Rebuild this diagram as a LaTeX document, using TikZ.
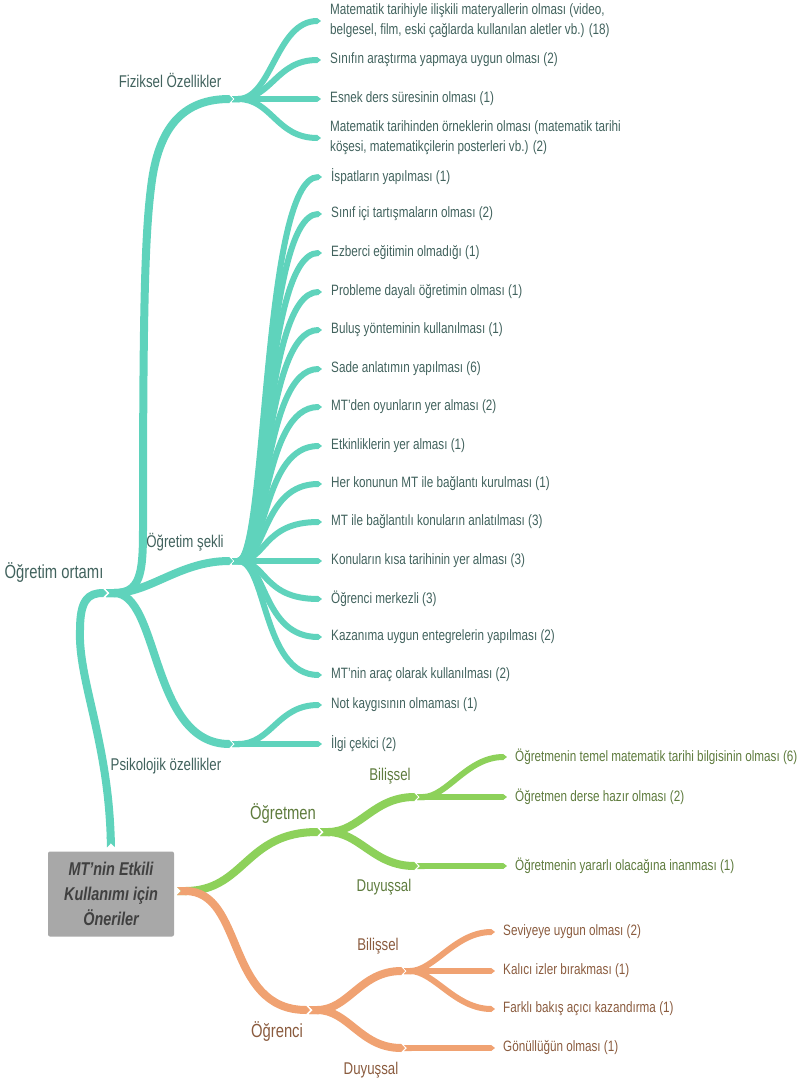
\documentclass[tikz,border=0pt]{standalone}
\usepackage{fontspec}
\setmainfont{Liberation Sans}[FakeStretch=0.78]
\usetikzlibrary{arrows.meta}
\usetikzlibrary{backgrounds}

\definecolor{tealc}{HTML}{5FD3BC}
\definecolor{greenc}{HTML}{8DD15A}
\definecolor{orangec}{HTML}{F0A272}
\definecolor{tealtext}{HTML}{41625D}
\definecolor{greentext}{HTML}{5E7B3D}
\definecolor{orangetext}{HTML}{8A5B3E}
\definecolor{rootfill}{HTML}{A8A8A8}

\begin{document}
\begin{tikzpicture}[x=1pt, y=-1pt,
    main/.style={line width=8pt, {Triangle Cap[reversed]}-{Triangle[width=0pt 1, length=4pt]}},
    leaf/.style={line width=6pt, {Triangle Cap[reversed]}-{Triangle[width=0pt 1, length=4pt]}},
    leaftext/.style={anchor=west, inner sep=0pt, align=left, font=\fontsize{15}{20}\selectfont},
    toptext/.style={inner sep=0pt, font=\fontsize{19}{22}\selectfont},
    midtext/.style={inner sep=0pt, font=\fontsize{17}{20}\selectfont},
    rootbox/.style={fill=rootfill, rounded corners=2pt, minimum width=126pt, minimum height=85pt,
        align=center, text=black!75, font=\fontsize{18.5}{25}\selectfont\bfseries\itshape}]

    \useasboundingbox (0,0) rectangle (800,1081);

    \node [rootbox] (root) at (111,894) {MT'nin Etkili\\Kullanımı için\\Öneriler};

    % junctions
    \coordinate (ort) at (106,593);
    \coordinate (fiz) at (232,99);
    \coordinate (sek) at (232,561);
    \coordinate (psi) at (232,744);
    \coordinate (ogm) at (320,832);
    \coordinate (gbil) at (417,797);
    \coordinate (gduy) at (417,866);
    \coordinate (ogr) at (309,1010);
    \coordinate (obil) at (404,971);
    \coordinate (oduy) at (404,1048);

    % branch labels
    \node [toptext, text=tealtext] (ortlbl) at (54,573) {Öğretim ortamı};
    \node [midtext, text=tealtext] (fizlbl) at (170,80) {Fiziksel Özellikler};
    \node [midtext, text=tealtext] (seklbl) at (185,542) {Öğretim şekli};
    \node [midtext, text=tealtext] (psilbl) at (166,766) {Psikolojik özellikler};
    \node [toptext, text=greentext] (ogmlbl) at (283,814) {Öğretmen};
    \node [midtext, text=greentext] (gbillbl) at (390,776) {Bilişsel};
    \node [midtext, text=greentext] (gduylbl) at (384,887) {Duyuşsal};
    \node [toptext, text=orangetext] (ogrlbl) at (277,1032) {Öğrenci};
    \node [midtext, text=orangetext] (obillbl) at (378,946) {Bilişsel};
    \node [midtext, text=orangetext] (oduylbl) at (371,1070) {Duyuşsal};

    % leaves
    \node [leaftext, text=tealtext] (f1) at (330,21) {Matematik tarihiyle ilişkili materyallerin olması (video,\\belgesel, film, eski çağlarda kullanılan aletler vb.) (18)};
    \node [leaftext, text=tealtext] (f2) at (330,60) {Sınıfın araştırma yapmaya uygun olması (2)};
    \node [leaftext, text=tealtext] (f3) at (330,99) {Esnek ders süresinin olması (1)};
    \node [leaftext, text=tealtext] (f4) at (330,138) {Matematik tarihinden örneklerin olması (matematik tarihi\\köşesi, matematikçilerin posterleri vb.) (2)};

    \node [leaftext, text=tealtext] (s1) at (331,177) {İspatların yapılması (1)};
    \node [leaftext, text=tealtext] (s2) at (331,214) {Sınıf içi tartışmaların olması (2)};
    \node [leaftext, text=tealtext] (s3) at (331,253) {Ezberci eğitimin olmadığı (1)};
    \node [leaftext, text=tealtext] (s4) at (331,292) {Probleme dayalı öğretimin olması (1)};
    \node [leaftext, text=tealtext] (s5) at (331,330) {Buluş yönteminin kullanılması (1)};
    \node [leaftext, text=tealtext] (s6) at (331,369) {Sade anlatımın yapılması (6)};
    \node [leaftext, text=tealtext] (s7) at (331,407) {MT'den oyunların yer alması (2)};
    \node [leaftext, text=tealtext] (s8) at (331,446) {Etkinliklerin yer alması (1)};
    \node [leaftext, text=tealtext] (s9) at (331,484) {Her konunun MT ile bağlantı kurulması (1)};
    \node [leaftext, text=tealtext] (s10) at (331,522) {MT ile bağlantılı konuların anlatılması (3)};
    \node [leaftext, text=tealtext] (s11) at (331,561) {Konuların kısa tarihinin yer alması (3)};
    \node [leaftext, text=tealtext] (s12) at (331,599) {Öğrenci merkezli (3)};
    \node [leaftext, text=tealtext] (s13) at (331,637) {Kazanıma uygun entegrelerin yapılması (2)};
    \node [leaftext, text=tealtext] (s14) at (331,675) {MT'nin araç olarak kullanılması (2)};

    \node [leaftext, text=tealtext] (p1) at (331,705) {Not kaygısının olmaması (1)};
    \node [leaftext, text=tealtext] (p2) at (331,744) {İlgi çekici (2)};

    \node [leaftext, text=greentext] (g1) at (515,757) {Öğretmenin temel matematik tarihi bilgisinin olması (6)};
    \node [leaftext, text=greentext] (g2) at (515,797) {Öğretmen derse hazır olması (2)};
    \node [leaftext, text=greentext] (g3) at (515,866) {Öğretmenin yararlı olacağına inanması (1)};

    \node [leaftext, text=orangetext] (o1) at (503,932) {Seviyeye uygun olması (2)};
    \node [leaftext, text=orangetext] (o2) at (503,971) {Kalıcı izler bırakması (1)};
    \node [leaftext, text=orangetext] (o3) at (503,1009) {Farklı bakış açıcı kazandırma (1)};
    \node [leaftext, text=orangetext] (o4) at (503,1048) {Gönüllüğün olması (1)};

    \begin{scope}[on background layer]
    % first level
    \draw [main, tealc] ([yshift=4pt]root.north) .. controls (108,740) and (78,680) .. (80,630)
        .. controls (80,600) and (88,593) .. ([xshift=1pt]ort);
    \draw [main, greenc] ([xshift=3pt,yshift=3pt]root.east) .. controls (245,891) and (245,832) .. ([xshift=1pt]ogm);
    \draw [main, orangec] ([xshift=3pt,yshift=3pt]root.east) .. controls (245,891) and (225,1010) .. ([xshift=1pt]ogr);

    % second level
    \draw [main, tealc] (ort) .. controls (140,593) and (143,575) .. (143,530)
        .. controls (143,300) and (145,230) .. (152,180)
        .. controls (160,125) and (185,99) .. ([xshift=1pt]fiz);
    \draw [main, tealc] (ort) .. controls (150,593) and (180,561) .. ([xshift=1pt]sek);
    \draw [main, tealc] (ort) .. controls (160,593) and (150,744) .. ([xshift=1pt]psi);
    \draw [main, greenc] (ogm) .. controls +(40,0) and +(-45,0) .. ([xshift=1pt]gbil);
    \draw [main, greenc] (ogm) .. controls +(40,0) and +(-45,0) .. ([xshift=1pt]gduy);
    \draw [main, orangec] (ogr) .. controls +(40,0) and +(-45,0) .. ([xshift=1pt]obil);
    \draw [main, orangec] (ogr) .. controls +(40,0) and +(-45,0) .. ([xshift=1pt]oduy);

    % leaves
    \draw [leaf, tealc] (fiz) .. controls +(40,0) and +(-45,0) .. ([xshift=-9pt]f1.west);
    \draw [leaf, tealc] (fiz) .. controls +(40,0) and +(-45,0) .. ([xshift=-9pt]f2.west);
    \draw [leaf, tealc] (fiz) .. controls +(40,0) and +(-45,0) .. ([xshift=-9pt]f3.west);
    \draw [leaf, tealc] (fiz) .. controls +(40,0) and +(-45,0) .. ([xshift=-9pt]f4.west);

    \draw [leaf, tealc] (sek) .. controls +(35,0) and +(-60,0) .. ([xshift=-9pt]s1.west);
    \draw [leaf, tealc] (sek) .. controls +(35,0) and +(-60,0) .. ([xshift=-9pt]s2.west);
    \draw [leaf, tealc] (sek) .. controls +(35,0) and +(-60,0) .. ([xshift=-9pt]s3.west);
    \draw [leaf, tealc] (sek) .. controls +(35,0) and +(-60,0) .. ([xshift=-9pt]s4.west);
    \draw [leaf, tealc] (sek) .. controls +(35,0) and +(-60,0) .. ([xshift=-9pt]s5.west);
    \draw [leaf, tealc] (sek) .. controls +(35,0) and +(-60,0) .. ([xshift=-9pt]s6.west);
    \draw [leaf, tealc] (sek) .. controls +(35,0) and +(-60,0) .. ([xshift=-9pt]s7.west);
    \draw [leaf, tealc] (sek) .. controls +(35,0) and +(-60,0) .. ([xshift=-9pt]s8.west);
    \draw [leaf, tealc] (sek) .. controls +(35,0) and +(-60,0) .. ([xshift=-9pt]s9.west);
    \draw [leaf, tealc] (sek) .. controls +(35,0) and +(-60,0) .. ([xshift=-9pt]s10.west);
    \draw [leaf, tealc] (sek) .. controls +(35,0) and +(-60,0) .. ([xshift=-9pt]s11.west);
    \draw [leaf, tealc] (sek) .. controls +(35,0) and +(-60,0) .. ([xshift=-9pt]s12.west);
    \draw [leaf, tealc] (sek) .. controls +(35,0) and +(-60,0) .. ([xshift=-9pt]s13.west);
    \draw [leaf, tealc] (sek) .. controls +(35,0) and +(-60,0) .. ([xshift=-9pt]s14.west);

    \draw [leaf, tealc] (psi) .. controls +(40,0) and +(-45,0) .. ([xshift=-9pt]p1.west);
    \draw [leaf, tealc] (psi) .. controls +(40,0) and +(-45,0) .. ([xshift=-9pt]p2.west);

    \draw [leaf, greenc] (gbil) .. controls +(30,0) and +(-40,0) .. ([xshift=-8pt]g1.west);
    \draw [leaf, greenc] (gbil) .. controls +(30,0) and +(-40,0) .. ([xshift=-8pt]g2.west);
    \draw [leaf, greenc] (gduy) .. controls +(30,0) and +(-40,0) .. ([xshift=-8pt]g3.west);

    \draw [leaf, orangec] (obil) .. controls +(30,0) and +(-40,0) .. ([xshift=-8pt]o1.west);
    \draw [leaf, orangec] (obil) .. controls +(30,0) and +(-40,0) .. ([xshift=-8pt]o2.west);
    \draw [leaf, orangec] (obil) .. controls +(30,0) and +(-40,0) .. ([xshift=-8pt]o3.west);
    \draw [leaf, orangec] (oduy) .. controls +(30,0) and +(-40,0) .. ([xshift=-8pt]o4.west);
    \end{scope}

\end{tikzpicture}
\end{document}
